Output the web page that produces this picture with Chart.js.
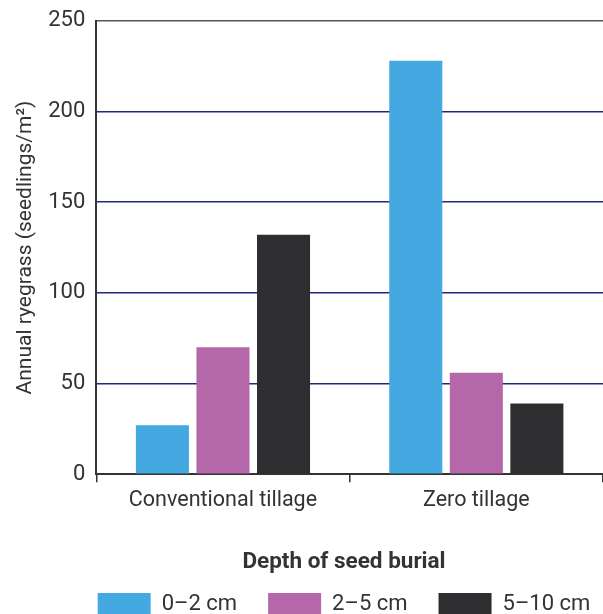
<!DOCTYPE html>
<html>
<head>
<meta charset="utf-8">
<script src="https://cdn.jsdelivr.net/npm/chart.js@4"></script>
<style>
  html, body { margin: 0; padding: 0; overflow: hidden; background: #fff; }
  #wrap { width: 603px; height: 625px; }
</style>
</head>
<body>
<div id="wrap"><canvas id="myChart"></canvas></div>
<script>
// data
var tillage = ['Conventional tillage', 'Zero tillage'];
var depth02 = [27, 228];
var depth25 = [70, 56];
var depth510 = [132, 39];
var seriesNames = ['0–2 cm', '2–5 cm', '5–10 cm'];
var yTicks = [0, 50, 100, 150, 200, 250];

var textColor = '#333333';
var font = 'Roboto, "Liberation Sans", sans-serif';

// legend sits under the plot area, not the whole canvas
var shiftLegend = {
  id: 'shiftLegend',
  afterLayout: function (chart) {
    chart.legend.left += 38;
    chart.legend.right += 38;
  }
};

var ctx = document.getElementById('myChart');
var myChart = new Chart(ctx, {
  type: 'bar',
  data: {
    labels: tillage,
    datasets: [
      { label: seriesNames[0], data: depth02, backgroundColor: '#45a9e1' },
      { label: seriesNames[1], data: depth25, backgroundColor: '#b467a9' },
      { label: seriesNames[2], data: depth510, backgroundColor: '#2e2e30' }
    ]
  },
  plugins: [shiftLegend],
  options: {
    responsive: true,
    maintainAspectRatio: false,
    animation: false,
    categoryPercentage: 0.717,
    barPercentage: 0.876,
    layout: { padding: { top: 7, right: 0, left: 9, bottom: 0 } },
    plugins: {
      tooltip: { enabled: false },
      legend: {
        position: 'bottom',
        title: {
          display: true,
          text: 'Depth of seed burial',
          color: textColor,
          font: { family: font, size: 22.5, weight: 'bold' },
          padding: { top: 31, bottom: -16 }
        },
        labels: {
          boxWidth: 53,
          boxHeight: 22,
          color: textColor,
          padding: 31,
          font: { family: font, size: 22 }
        }
      }
    },
    scales: {
      x: {
        grid: {
          drawOnChartArea: false,
          tickLength: 8,
          color: textColor,
          lineWidth: 1.5
        },
        border: { color: textColor, width: 2 },
        ticks: {
          color: textColor,
          padding: 6,
          font: { family: font, size: 21.5 }
        }
      },
      y: {
        min: 0,
        max: 250,
        afterBuildTicks: function (axis) {
          axis.ticks = yTicks.map(function (v) { return { value: v }; });
        },
        grid: {
          drawTicks: false,
          lineWidth: 1.5,
          color: function (c) {
            return c.tick.value === 250 ? '#555555' : '#1f2a78';
          }
        },
        border: { color: textColor, width: 2 },
        title: {
          display: true,
          text: 'Annual ryegrass (seedlings/m²)',
          color: textColor,
          font: { family: font, size: 21 },
          padding: { bottom: -1 }
        },
        ticks: {
          color: textColor,
          padding: 11,
          font: { family: font, size: 22, lineHeight: 0.9 }
        }
      }
    }
  }
});
</script>
</body>
</html>
